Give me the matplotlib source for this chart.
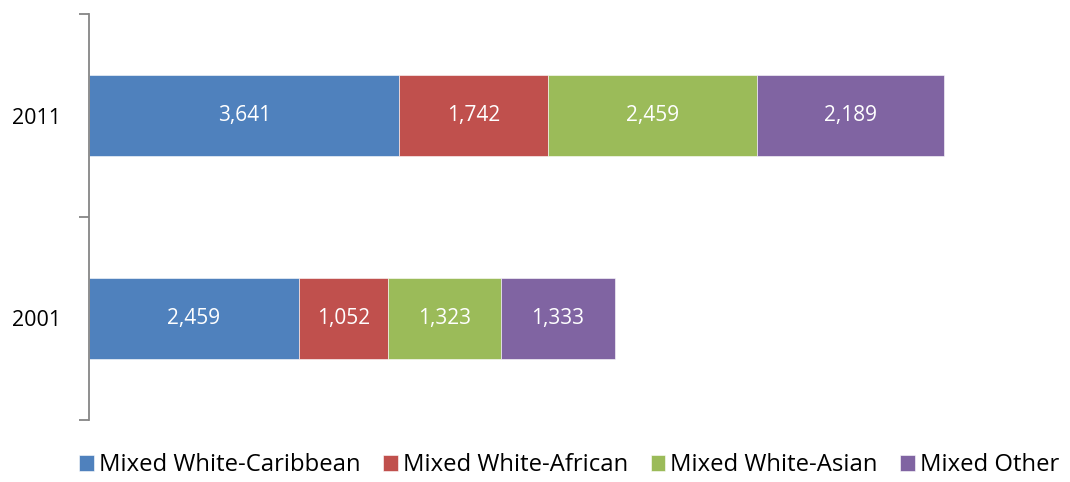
import matplotlib.pyplot as plt
import numpy as np

years = ["2001", "2011"]
groups = ["Mixed White-Caribbean", "Mixed White-African",
          "Mixed White-Asian", "Mixed Other"]
counts_2001 = [2459, 1052, 1323, 1333]
counts_2011 = [3641, 1742, 2459, 2189]
colors = ["#4F81BD", "#C0504D", "#9BBB59", "#8064A2"]

plt.rcParams['font.family'] = ['Open Sans', 'DejaVu Sans']

W, H = 1070, 482
fig = plt.figure(figsize=(W / 100, H / 100), dpi=100)

# axes placed in pixel terms: spine at x=89, spans y=14..420
xmax = 11000
px_per_unit = 855 / 10031
ax = fig.add_axes([89 / W, (H - 420) / H, xmax * px_per_unit / W, 406 / H])

data = np.array([counts_2001, counts_2011])
y = np.arange(len(years))
left = np.zeros(len(years))
for k, name in enumerate(groups):
    vals = data[:, k]
    ax.barh(y, vals, left=left, height=0.4, color=colors[k],
            label=name, edgecolor="white", linewidth=0.4)
    for yi, v, l0 in zip(y, vals, left):
        ax.text(l0 + v / 2, yi, f"{v:,}", ha="center", va="center",
                color="white", fontsize=15)
    left += vals

ax.set_xlim(0, xmax)
ax.set_ylim(-0.5, 1.5)
ax.set_xticks([])
ax.set_yticks(y)
ax.set_yticklabels(years, fontsize=15.5)
ax.tick_params(axis="y", which="major", length=0, pad=20)
ax.set_yticks([-0.5, 0.5, 1.5], minor=True)
ax.tick_params(axis="y", which="minor", length=7, width=1.3, color="#868686")
for s in ["top", "right", "bottom"]:
    ax.spines[s].set_visible(False)
ax.spines["left"].set_color("#868686")
ax.spines["left"].set_linewidth(1.3)

fig.legend(loc="lower center", bbox_to_anchor=(0.532, -0.02), ncol=4,
           frameon=False, fontsize=17.2, handlelength=0.62, handleheight=0.62,
           handletextpad=0.2, columnspacing=0.95, borderaxespad=0.2)

fig.savefig("out.png", dpi=100)
